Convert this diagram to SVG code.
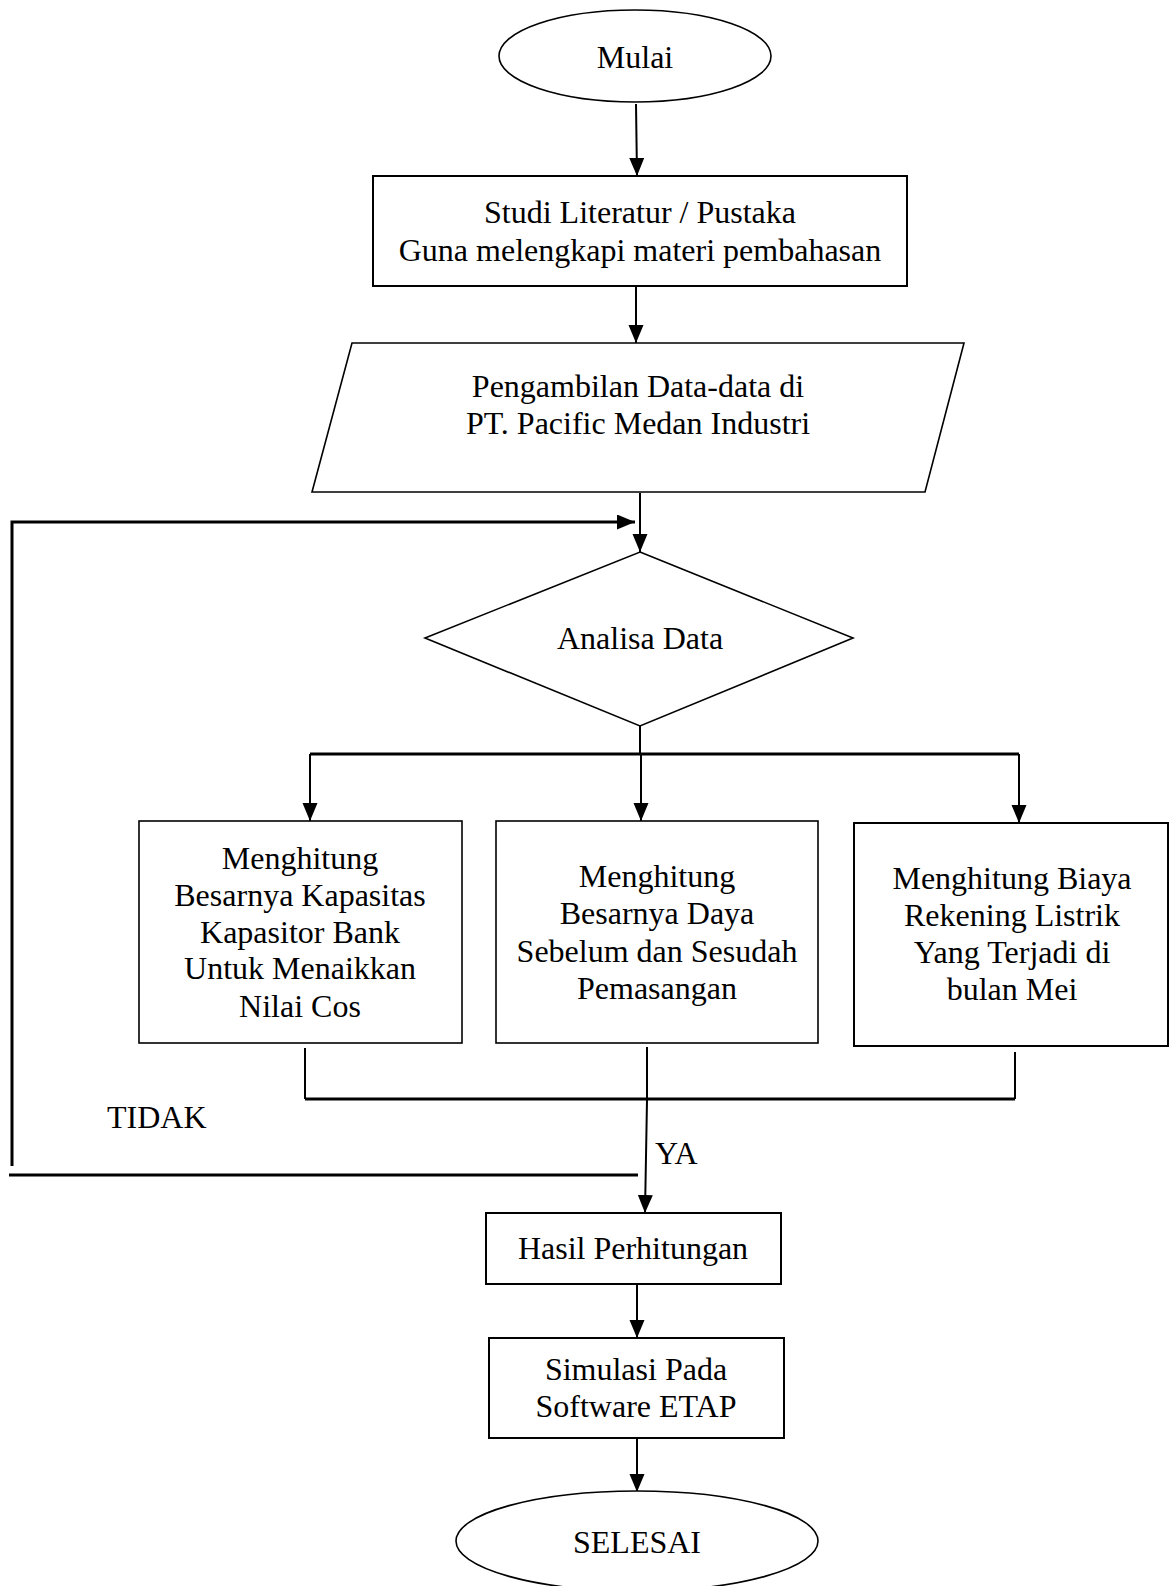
<svg xmlns="http://www.w3.org/2000/svg" width="1170" height="1586" viewBox="0 0 1170 1586">
<style>
  text { font-family: "Liberation Serif", "Times New Roman", serif; font-size: 32px; fill: #000; }
  .c { text-anchor: middle; }
  .shape { fill: #fff; stroke: #000; stroke-width: 2; }
  .thin { fill: #fff; stroke: #000; stroke-width: 1.6; }
  .line { fill: none; stroke: #000; stroke-width: 2; }
  .thick { fill: none; stroke: #000; stroke-width: 3; }
</style>
<defs>
  <marker id="arrow" markerUnits="userSpaceOnUse" markerWidth="19" markerHeight="16" refX="18" refY="7.5" orient="auto">
    <path d="M0,0 L18,7.5 L0,15 z" fill="#000"/>
  </marker>
</defs>
<rect width="1170" height="1586" fill="#fff"/>
<g id="connectors">
  <line class="line" x1="636" y1="104" x2="637" y2="176" marker-end="url(#arrow)"/>
  <line class="line" x1="636" y1="286" x2="636" y2="343" marker-end="url(#arrow)"/>
  <line class="line" x1="640" y1="493" x2="640" y2="552" marker-end="url(#arrow)"/>
  <polyline class="thick" points="12,1166 12,522 635,522" marker-end="url(#arrow)"/>
  <line class="thick" x1="9" y1="1175" x2="638" y2="1175"/>
  <line class="line" x1="640" y1="726" x2="640" y2="754"/>
  <line class="thick" x1="310" y1="754" x2="1019" y2="754"/>
  <line class="line" x1="310" y1="754" x2="310" y2="821" marker-end="url(#arrow)"/>
  <line class="line" x1="641" y1="754" x2="641" y2="821" marker-end="url(#arrow)"/>
  <line class="line" x1="1019" y1="754" x2="1019" y2="823" marker-end="url(#arrow)"/>
  <line class="line" x1="305" y1="1048" x2="305" y2="1099"/>
  <line class="line" x1="1015" y1="1052" x2="1015" y2="1099"/>
  <line class="thick" x1="305" y1="1099" x2="1015" y2="1099"/>
  <polyline class="line" points="647,1047 647,1100 645,1213" marker-end="url(#arrow)"/>
  <line class="line" x1="637" y1="1284" x2="637" y2="1338" marker-end="url(#arrow)"/>
  <line class="line" x1="637" y1="1438" x2="637" y2="1492" marker-end="url(#arrow)"/>
</g>
<g id="mulai">
  <ellipse class="thin" cx="635" cy="56" rx="136" ry="46"/>
  <text class="c" x="635" y="68">Mulai</text>
</g>
<g id="studi">
  <rect class="shape" x="373" y="176" width="534" height="110"/>
  <text class="c" x="640" y="223">Studi Literatur / Pustaka</text>
  <text class="c" x="640" y="261">Guna melengkapi materi pembahasan</text>
</g>
<g id="pengambilan">
  <polygon class="thin" points="352,343 964,343 925,492 312,492"/>
  <text class="c" x="638" y="397">Pengambilan Data-data di</text>
  <text class="c" x="638" y="434">PT. Pacific Medan Industri</text>
</g>
<g id="analisa">
  <polygon class="thin" points="640,552 853,638 640,726 425,638"/>
  <text class="c" x="640" y="649">Analisa Data</text>
</g>
<g id="kapasitas">
  <rect class="thin" x="139" y="821" width="323" height="222"/>
  <text class="c" x="300" y="869">Menghitung</text>
  <text class="c" x="300" y="906">Besarnya Kapasitas</text>
  <text class="c" x="300" y="943">Kapasitor Bank</text>
  <text class="c" x="300" y="979">Untuk Menaikkan</text>
  <text class="c" x="300" y="1017">Nilai Cos</text>
</g>
<g id="daya">
  <rect class="thin" x="496" y="821" width="322" height="222"/>
  <text class="c" x="657" y="887">Menghitung</text>
  <text class="c" x="657" y="924">Besarnya Daya</text>
  <text class="c" x="657" y="962">Sebelum dan Sesudah</text>
  <text class="c" x="657" y="999">Pemasangan</text>
</g>
<g id="biaya">
  <rect class="shape" x="854" y="823" width="314" height="223"/>
  <text class="c" x="1012" y="889">Menghitung Biaya</text>
  <text class="c" x="1012" y="926">Rekening Listrik</text>
  <text class="c" x="1012" y="963">Yang Terjadi di</text>
  <text class="c" x="1012" y="1000">bulan Mei</text>
</g>
<g id="labels">
  <text x="107" y="1128">TIDAK</text>
  <text x="655" y="1164">YA</text>
</g>
<g id="hasil">
  <rect class="shape" x="486" y="1213" width="295" height="71"/>
  <text class="c" x="633" y="1259">Hasil Perhitungan</text>
</g>
<g id="simulasi">
  <rect class="shape" x="489" y="1338" width="295" height="100"/>
  <text class="c" x="636" y="1380">Simulasi Pada</text>
  <text class="c" x="636" y="1417">Software ETAP</text>
</g>
<g id="selesai">
  <ellipse class="thin" cx="637" cy="1541" rx="181" ry="50"/>
  <text class="c" x="637" y="1553">SELESAI</text>
</g>
</svg>
